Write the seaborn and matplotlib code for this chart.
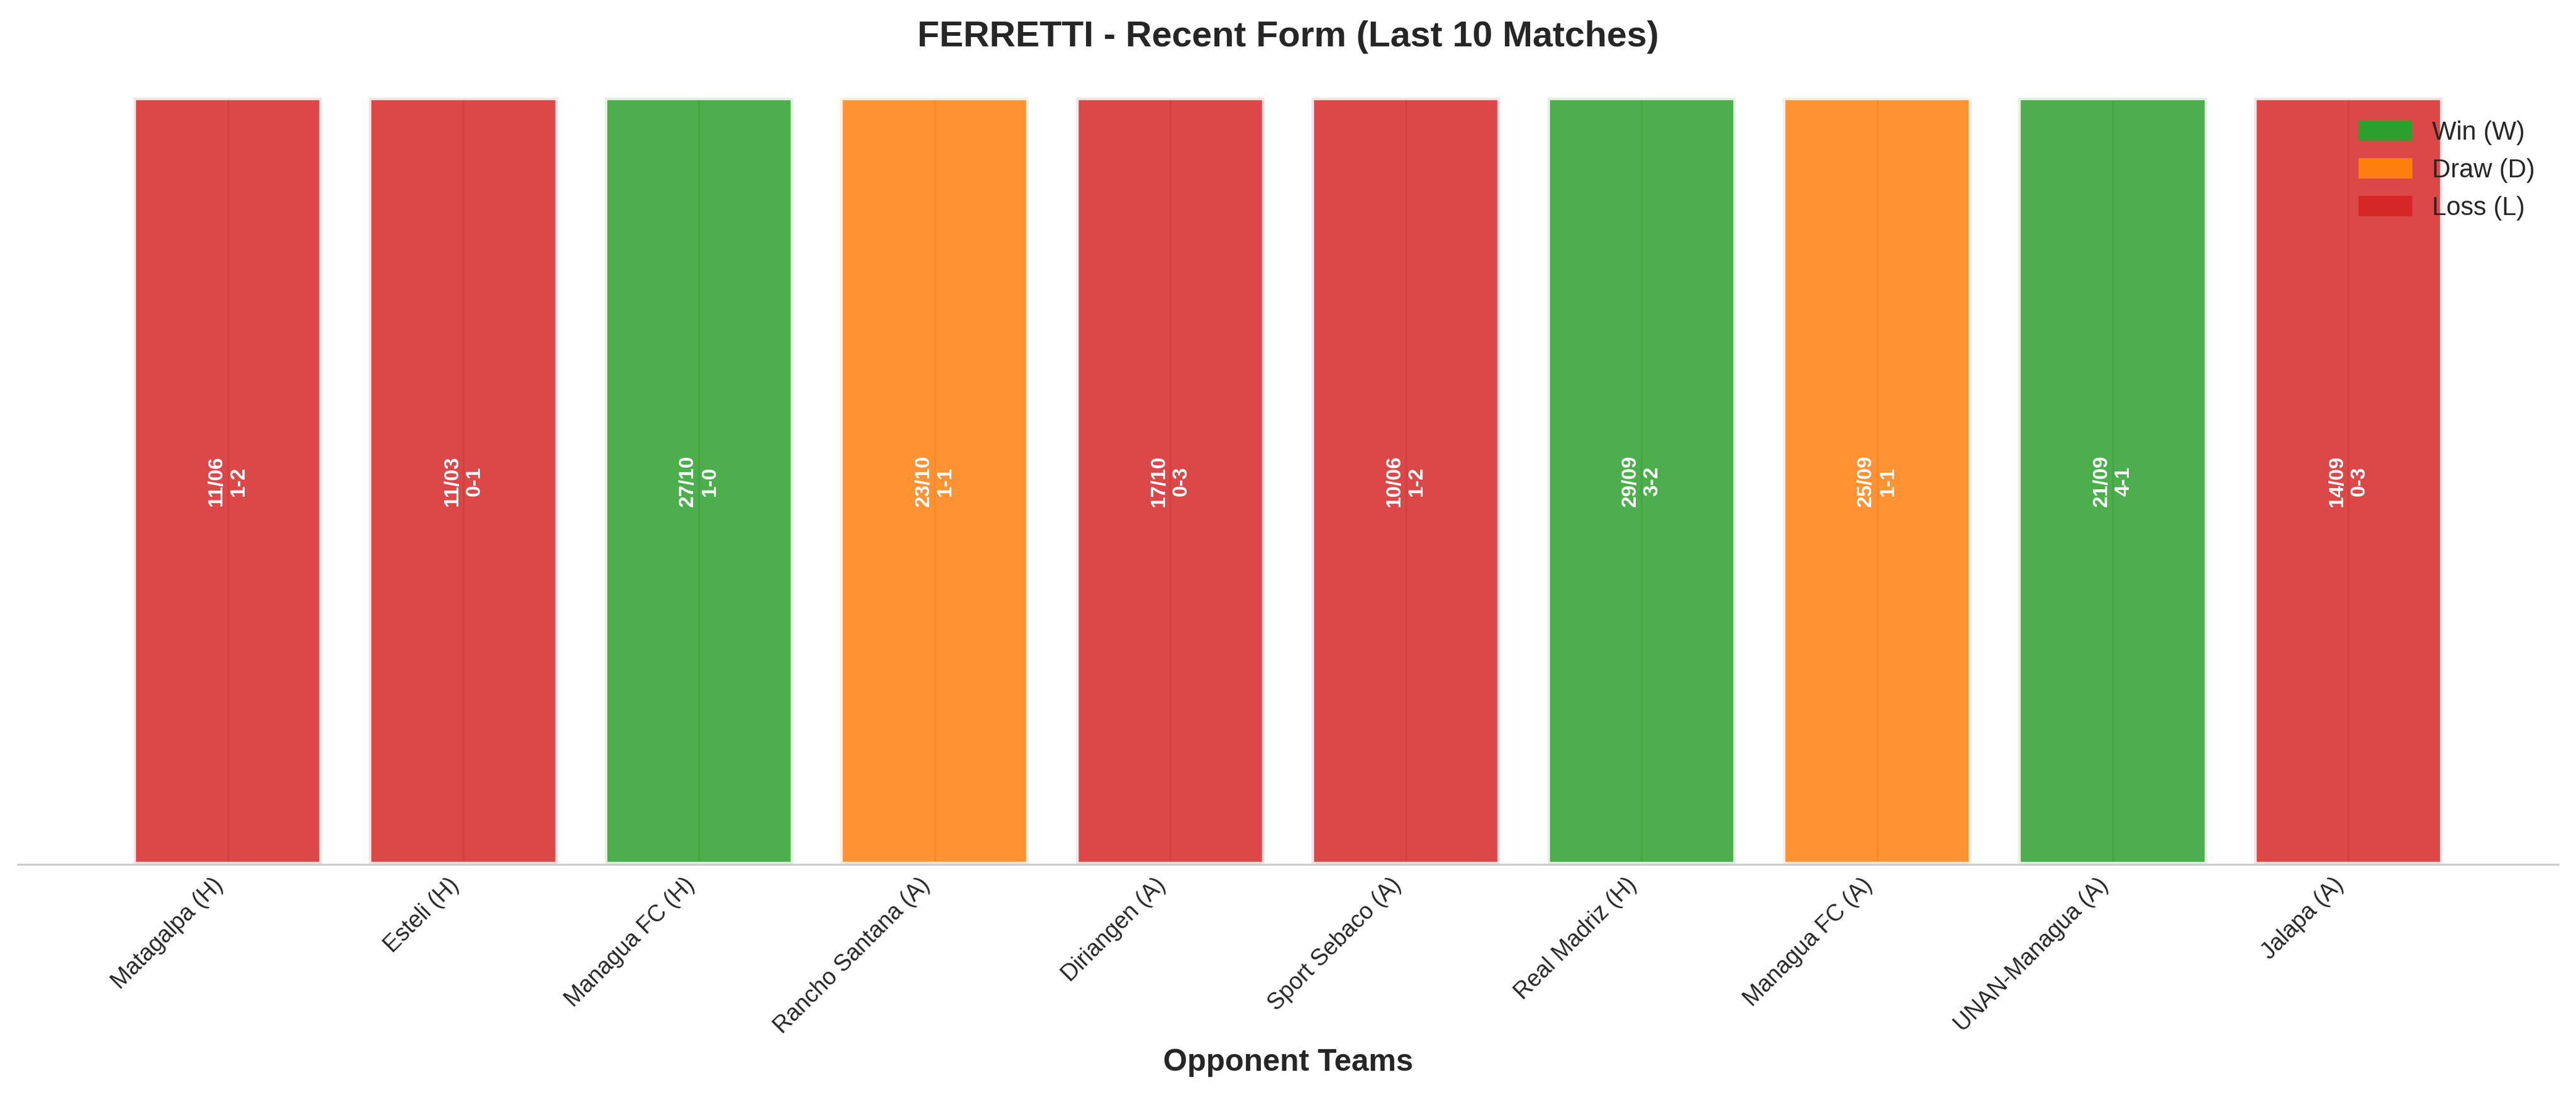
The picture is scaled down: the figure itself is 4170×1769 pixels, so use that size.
import pandas as pd
import matplotlib.pyplot as plt
from matplotlib.patches import Patch
import seaborn as sns

# last 10 matches, most recent first
opponents = ["Matagalpa (H)", "Esteli (H)", "Managua FC (H)", "Rancho Santana (A)", "Diriangen (A)",
             "Sport Sebaco (A)", "Real Madriz (H)", "Managua FC (A)", "UNAN-Managua (A)", "Jalapa (A)"]
dates = ["11/06", "11/03", "27/10", "23/10", "17/10", "10/06", "29/09", "25/09", "21/09", "14/09"]
scores = ["1-2", "0-1", "1-0", "1-1", "0-3", "1-2", "3-2", "1-1", "4-1", "0-3"]
results = ["L", "L", "W", "D", "L", "L", "W", "D", "W", "L"]
bar_value = [1] * len(opponents)

result_colors = {"W": "#2ca02c", "D": "#ff7f0e", "L": "#d62728"}
result_names = {"W": "Win (W)", "D": "Draw (D)", "L": "Loss (L)"}

if __name__ == '__main__':

    sns.set_style("whitegrid")
    plt.rcParams['font.family'] = ['Liberation Sans', 'DejaVu Sans']

    data = pd.DataFrame({"opponent": opponents, "value": bar_value, "result": results,
                         "date": dates, "score": scores})

    fig, ax = plt.subplots(figsize=(13.9, 5.8967), dpi=300)
    fig.subplots_adjust(left=0.007, right=0.993, bottom=0.209, top=0.9107)

    sns.barplot(data=data, x="opponent", y="value", hue="result", palette=result_colors,
                dodge=False, alpha=0.85, saturation=1, edgecolor="white", linewidth=2, width=0.8,
                legend=False, ax=ax)

    # date + score inside each bar
    for i, row in data.iterrows():
        ax.text(i, 0.5, f"{row['date']}\n{row['score']}", rotation=90, ha="center", va="center",
                color="white", fontsize=8, fontweight="bold")

    n = len(opponents)
    pad = 0.05 * (n - 1 + 0.8)
    ax.set_xlim(-0.4 - pad, n - 1 + 0.4 + pad)
    ax.set_ylim(0, 1)
    ax.xaxis.grid(True)
    ax.yaxis.grid(False)
    ax.set_yticks([])
    ax.set_ylabel("")
    ax.tick_params(axis="x", length=0, labelsize=9)
    sns.despine(ax=ax, left=True, top=True, right=True)

    plt.setp(ax.get_xticklabels(), rotation=45, ha="right")
    ax.set_xlabel("Opponent Teams", fontsize=12, fontweight="bold")
    ax.set_title("FERRETTI - Recent Form (Last 10 Matches)", fontsize=14, fontweight="bold", pad=20)

    handles = [Patch(color=result_colors[k], label=result_names[k]) for k in ["W", "D", "L"]]
    ax.legend(handles=handles, loc="upper right", frameon=False, fontsize=10)

    plt.savefig("out.png", dpi=300)
    print("Done")
